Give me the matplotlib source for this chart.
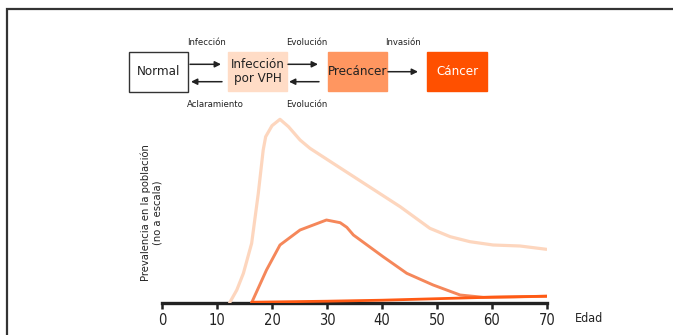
import matplotlib
matplotlib.use("Agg")
import matplotlib.pyplot as plt
from matplotlib import font_manager as fm
from matplotlib.patches import Rectangle

# ---------------- data ----------------
age_vph = [12.3, 13.6, 14.8, 16.3, 17.5, 18.4, 18.85, 20.0, 21.45, 23.0, 25.1, 26.9,
           31.1, 37.2, 43.3, 48.7, 52.4, 56.0, 60.2, 65.1, 69.9]
prev_vph = [0, 12.7, 29.4, 59.4, 109, 152.7, 166, 177, 183.4, 176, 162.7, 154.4,
            139.4, 117.7, 96, 74.4, 66, 61, 57.7, 56.7, 53.4]

age_pre = [16.3, 19.0, 21.45, 25.1, 29.9, 32.4, 33.6, 34.8, 40.2, 44.5, 49.3, 54.2, 58.4, 64.0, 70.0]
prev_pre = [0, 32.7, 57.7, 72.7, 82.7, 80, 75.4, 67.7, 46, 29.4, 17.7, 7.7, 5.4, 5.8, 6.5]

age_can = [16.3, 30, 40, 50, 60, 70]
prev_can = [0.5, 1.5, 2.5, 4.0, 5.5, 6.5]

xticks = [0, 10, 20, 30, 40, 50, 60, 70]

# ---------------- fonts ----------------
def pick_condensed(bold=False):
    best = None
    for f in fm.fontManager.ttflist:
        st = str(f.stretch).lower()
        nm = f.name.lower()
        cond = ("condensed" in st or "narrow" in nm or "condensed" in nm
                or "condensed" in f.fname.lower() or "narrow" in f.fname.lower())
        if not cond or f.style != "normal":
            continue
        w = f.weight if isinstance(f.weight, int) else (700 if "bold" in str(f.weight) else 400)
        isbold = w >= 600
        if isbold != bold:
            continue
        if "liberation" in nm:
            score = 3
        elif "dejavu" in nm:
            score = 2
        else:
            score = 1
        if best is None or score > best[0]:
            best = (score, f.fname)
    return best[1] if best else None

reg = pick_condensed(False)
fp = fm.FontProperties(fname=reg) if reg else fm.FontProperties(family="DejaVu Sans", stretch="condensed")

def F(size):
    p = fp.copy()
    p.set_size(size)
    return p

c_vph = "#FDD6BE"
c_pre = "#F5875A"
c_can = "#FF5A14"
txt = "#222222"

W, H = 673, 335
fig = plt.figure(figsize=(W / 100, H / 100), dpi=100)

ov = fig.add_axes([0, 0, 1, 1])
ov.set_xlim(0, W)
ov.set_ylim(H, 0)
ov.axis("off")

# frame
ov.plot([7, 7, W + 5], [H + 5, 9, 9], color="#333333", lw=1.6, solid_joinstyle="miter")

boxes = [
    (129, 52, 59, 39.5, "white", "#333333", "Normal", txt),
    (228, 52, 59, 39, "#FFDCC6", "#FFDCC6", "Infección\npor VPH", txt),
    (328, 52, 59, 39, "#FF9660", "#FF9660", "Precáncer", txt),
    (427, 52, 60, 39, "#FF5000", "#FF5000", "Cáncer", "white"),
]
for x, y, w, h, fc, ec, label, tc in boxes:
    ov.add_patch(Rectangle((x, y), w, h, facecolor=fc, edgecolor=ec, lw=1.0))
    ov.text(x + w / 2, y + h / 2, label, ha="center", va="center", fontproperties=F(9.5),
            color=tc, linespacing=1.15)

arrows = [
    (190, 64.3, 221, 64.3),
    (222, 81.7, 191, 81.7),
    (288, 64.3, 318, 64.3),
    (319, 81.7, 289, 81.7),
    (388, 71.7, 418, 71.7),
]
for x0, y0, x1, y1 in arrows:
    ov.annotate("", xy=(x1, y1), xytext=(x0, y0),
                arrowprops=dict(arrowstyle="-|>", color="#222222", lw=1.1,
                                mutation_scale=9, shrinkA=0, shrinkB=0))

small = [
    (206.7, 42.3, "Infección"),
    (306.7, 42.3, "Evolución"),
    (402.7, 42.3, "Invasión"),
    (215, 104.3, "Aclaramiento"),
    (306.7, 104.3, "Evolución"),
]
for x, y, t in small:
    ov.text(x, y, t, ha="center", va="center", fontproperties=F(6.8), color=txt)

# main axes
left, right = 162 / W, 547 / W
bottom = (H - 302.7) / H
top_px = 110
ax = fig.add_axes([left, bottom, right - left, (302.7 - top_px) / H])
ax.set_xlim(0, 70)
ax.set_ylim(0, 302.7 - top_px)
ax.patch.set_alpha(0)

ax.plot(age_vph, prev_vph, color=c_vph, lw=2.3, solid_joinstyle="round", solid_capstyle="round")
ax.plot(age_pre, prev_pre, color=c_pre, lw=2.1, solid_joinstyle="round", solid_capstyle="round")
ax.plot(age_can, prev_can, color=c_can, lw=2.0, solid_joinstyle="round", solid_capstyle="round")

for s in ["top", "right", "left"]:
    ax.spines[s].set_visible(False)
ax.spines["bottom"].set_linewidth(2.4)
ax.spines["bottom"].set_color("#222222")
ax.spines["bottom"].set_zorder(0)
ax.set_xticks(xticks)
ax.set_xticklabels([str(t) for t in xticks])
ax.tick_params(axis="x", direction="out", length=4.5, width=1.8, color="#222222",
               labelcolor=txt, pad=3)
for lab in ax.get_xticklabels():
    lab.set_fontproperties(F(10.5))
ax.set_yticks([])

fig.text(575 / W, 1 - 318 / H, "Edad", ha="left", va="center", fontproperties=F(9), color=txt)
fig.text(151.5 / W, 1 - 213 / H, "Prevalencia en la población\n(no a escala)", rotation=90,
         ha="center", va="center", fontproperties=F(8), color=txt, linespacing=1.1)

fig.savefig("out.png", dpi=100)
